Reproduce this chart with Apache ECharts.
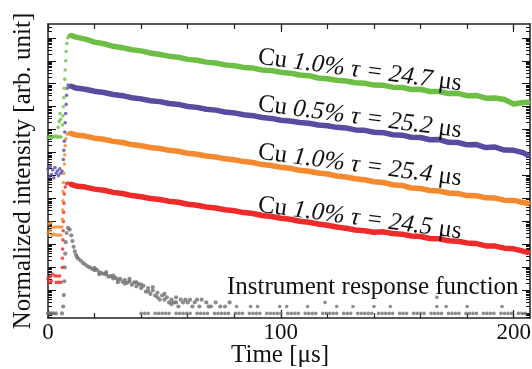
<!DOCTYPE html>
<html>
<head>
<meta charset="utf-8">
<script src="https://cdn.jsdelivr.net/npm/echarts@6/dist/echarts.min.js"></script>
<style>
  html, body { margin: 0; padding: 0; background: #fff; }
  #chart { width: 532px; height: 369px; }
</style>
</head>
<body>
<div id="chart"></div>
<script>
// y values are log10 of the normalized intensity (decades, curves offset)
const DECAY_T = [10, 12, 16, 20, 24, 28, 32, 36, 40, 44, 48, 52, 56, 60, 64, 68, 72, 76, 80, 84, 88, 92, 96, 100,
  104, 108, 112, 116, 120, 124, 128, 132, 136, 140, 144, 148, 152, 156, 160, 164, 168, 172, 176, 180, 184, 188,
  192, 196, 200, 204, 206]

const GREEN = [12.10, 12.03, 11.94, 11.81, 11.74, 11.63, 11.57, 11.48, 11.43, 11.34, 11.27, 11.20, 11.15, 11.06,
  11.02, 10.94, 10.90, 10.82, 10.78, 10.71, 10.68, 10.60, 10.57, 10.50, 10.46, 10.38, 10.35, 10.25, 10.22, 10.15,
  10.12, 10.04, 10.02, 9.94, 9.93, 9.85, 9.84, 9.75, 9.76, 9.66, 9.66, 9.57, 9.58, 9.48, 9.49, 9.37, 9.38, 9.31,
  9.12, 9.18, 9.19]
const PURPLE = [9.89, 9.81, 9.76, 9.67, 9.62, 9.53, 9.48, 9.39, 9.34, 9.26, 9.22, 9.14, 9.10, 9.01, 8.97, 8.89,
  8.85, 8.77, 8.73, 8.65, 8.61, 8.53, 8.49, 8.41, 8.38, 8.31, 8.28, 8.20, 8.17, 8.10, 8.07, 7.99, 7.97, 7.89, 7.87,
  7.78, 7.76, 7.67, 7.66, 7.56, 7.57, 7.45, 7.44, 7.34, 7.35, 7.22, 7.24, 7.11, 7.10, 7.00, 6.90]
const ORANGE = [7.83, 7.77, 7.72, 7.63, 7.58, 7.49, 7.44, 7.35, 7.30, 7.22, 7.18, 7.10, 7.06, 6.97, 6.93, 6.85,
  6.81, 6.73, 6.69, 6.61, 6.57, 6.48, 6.44, 6.36, 6.32, 6.23, 6.19, 6.11, 6.07, 5.98, 5.94, 5.86, 5.82, 5.73, 5.70,
  5.60, 5.57, 5.46, 5.44, 5.35, 5.33, 5.24, 5.22, 5.13, 5.12, 5.03, 5.02, 4.93, 4.92, 4.83, 4.80]
const RED = [5.62, 5.55, 5.50, 5.41, 5.36, 5.27, 5.22, 5.13, 5.08, 5.00, 4.96, 4.88, 4.84, 4.75, 4.71, 4.63, 4.59,
  4.51, 4.47, 4.39, 4.35, 4.26, 4.22, 4.14, 4.10, 4.01, 3.97, 3.89, 3.84, 3.76, 3.71, 3.63, 3.60, 3.53, 3.55, 3.48,
  3.45, 3.37, 3.35, 3.26, 3.25, 3.16, 3.14, 3.07, 3.04, 2.94, 2.93, 2.84, 2.81, 2.71, 2.66]

// background before the pulse and the rising edge, [t, log10 I]
const GREEN_PRE = [[0, 7.66], [0.7, 7.70], [1.4, 7.64], [2.1, 7.70], [2.8, 7.68], [3.5, 7.72], [4.2, 7.66],
  [4.9, 7.70], [5.6, 7.68], [4.4, 8.10], [4.8, 8.35], [5.1, 8.70], [5.4, 8.45], [6.2, 8.2], [6.4, 8.6], [6.6, 9.0],
  [6.8, 9.4], [7.0, 9.8], [7.2, 10.2], [7.4, 10.6], [7.6, 11.0], [7.8, 11.4], [8.1, 11.75], [8.5, 12.0], [9.0, 12.1]]
const PURPLE_PRE = [[0, 6.30], [0.5, 5.95], [1, 6.40], [1.5, 6.05], [2, 6.25], [2.5, 5.90], [3, 6.35], [3.5, 6.10],
  [4, 6.20], [4.5, 6.00], [5, 6.30], [5.5, 6.10], [6, 6.20], [6.6, 6.7], [6.8, 7.1], [7.0, 7.5], [7.2, 7.9],
  [7.4, 8.3], [7.6, 8.7], [7.8, 9.1], [8.0, 9.5], [8.3, 9.8], [8.6, 9.94]]
const ORANGE_PRE = [[0, 3.50], [0.4, 3.90], [0.8, 3.60], [1.2, 3.95], [1.6, 3.40], [2, 3.75], [2.4, 3.45],
  [3, 3.76], [4, 3.76], [5, 3.76], [6, 3.76], [3.5, 3.41], [4.5, 3.41], [5.5, 3.41], [6.2, 4.1], [6.3, 4.5],
  [6.4, 4.9], [6.5, 5.3], [6.6, 5.7], [6.8, 6.1], [7.0, 6.5], [7.2, 6.9], [7.4, 7.3], [7.7, 7.6], [8.3, 7.8],
  [9, 7.86]]
const RED_PRE = [[0, 1.50], [0.5, 1.35], [1, 1.60], [1.5, 1.40], [2, 1.70], [3, 1.63], [4, 1.63], [5, 1.63],
  [3.5, 1.35], [4.5, 1.35], [5.5, 1.35], [6.1, 2.0], [6.2, 2.4], [6.3, 2.8], [6.4, 3.2], [6.5, 3.6], [6.6, 4.0],
  [6.7, 4.4], [6.8, 4.8], [7.0, 5.2], [7.4, 5.5], [8, 5.65], [8.6, 5.68]]

// instrument response function
const IRF_PULSE = [[0, 0], [1, 0], [2, 0], [3.4, 0], [6, 0], [6.5, 0.3], [6.8, 0.8], [7, 1.4], [7.2, 2.0],
  [7.4, 2.6], [7.6, 3.1], [8, 3.5], [8.6, 3.72], [9.3, 3.65], [10, 3.4], [10.5, 3.15], [11, 2.9], [11.5, 2.7],
  [12, 2.55], [12.5, 2.45], [13, 2.38], [14, 2.3], [15, 2.2], [16, 2.13], [17, 2.05], [18, 2.0], [19, 1.93],
  [20, 1.88], [21, 1.9], [22, 1.8], [23, 1.76], [24, 1.72], [25, 1.7], [26, 1.6], [27, 1.62], [28, 1.52],
  [29, 1.55], [30, 1.47], [31, 1.5], [32, 1.38], [33, 1.45], [34, 1.33], [35, 1.4], [36, 1.25], [37, 1.35],
  [38, 1.18], [39, 1.28], [40, 1.1], [41, 1.2], [42, 0.95], [43, 1.1], [44, 0.85], [45, 1.0], [46, 0.78],
  [47, 0.9], [48, 0.6], [49, 0.78], [50, 0.6], [51, 0.7], [52, 0.48], [53, 0.6], [54, 0.48], [55, 0.7],
  [56, 0.3], [57, 0.6], [58, 0.48], [60, 0.48], [61, 0.6], [62, 0.3], [63, 0.48], [65, 0.3], [66, 0.6],
  [68, 0.48], [70, 0.3], [72, 0.48], [74, 0.3], [76, 0.3], [78, 0.48],
  [20, 1.98], [22, 1.7], [25, 1.8], [28, 1.65], [30, 1.36], [33, 1.3], [35, 1.5], [38, 1.35], [40, 1.25],
  [43, 0.95], [45, 1.15], [47, 0.7], [50, 0.85], [53, 0.4], [55, 0.48], [59, 0.6], [64, 0.6], [69, 0.3]]
const IRF_TAIL = [[81, 0.3], [87, 0.3], [90, 0.3], [99.5, 0.3], [102.5, 0.3], [111.5, 0.3], [119, 0.48],
  [124, 0.3], [131, 0.3], [140, 0.3], [147, 0.3], [167, 0.3], [167, 0.7], [171, 0.3], [180, 0.3], [195, 0.3]]
const IRF_FLOOR_T = [40, 41.5, 43, 46, 47.5, 49, 50.5, 52, 55, 56.5, 58, 59.5, 61, 64, 65.5, 67, 68.5, 71.5, 73,
  74.5, 76, 77.5, 80.5, 82, 83.5, 86.5, 88, 89.5, 91, 94, 95.5, 97, 98.5, 100, 103, 104.5, 106, 107.5, 110.5, 112,
  113.5, 115, 118, 119.5, 121, 122.5, 124, 127, 128.5, 130, 133, 134.5, 136, 137.5, 139, 142, 143.5, 145, 146.5,
  148, 151, 152.5, 154, 157, 158.5, 160, 161.5, 164.5, 166, 167.5, 169, 172, 173.5, 175, 176.5, 179.5, 181,
  182.5, 184, 187, 188.5, 190, 191.5, 194.5, 196, 197.5, 199, 202, 203.5, 205]

const X_MIN = 0
const X_MAX = 207
const X_MINOR = [0, 20, 40, 60, 80, 100, 120, 140, 160, 180, 200]
const X_MAJOR = [0, 100, 200]
const Y_MIN = -0.2
const Y_MAX = 12.6

const COLORS = { green: '#6cbe45', purple: '#584ca0', orange: '#f38a30', red: '#ee2a2a', gray: '#707070' }
const SERIF = '"Liberation Serif", "DejaVu Serif", serif'

// log-style tick positions (decades + 2..9 subdivisions)
const yMajor = []
const yMinor = []
for (let d = -1; d <= 13; d++) {
  if (d >= Y_MIN && d <= Y_MAX) yMajor.push(d)
  for (let k = 2; k <= 9; k++) {
    const v = d + Math.log10(k)
    if (v >= Y_MIN && v <= Y_MAX) yMinor.push(v)
  }
}

const chart = echarts.init(document.getElementById('chart'))

function xAxis(position, ticks, len, extra) {
  return Object.assign({
    type: 'value', position, min: X_MIN, max: X_MAX,
    axisLine: { show: false, onZero: false },
    axisTick: { show: true, inside: true, length: len, customValues: ticks, lineStyle: { color: '#222', width: 1.2 } },
    axisLabel: { show: false },
    splitLine: { show: false },
  }, extra)
}
function yAxis(position, ticks, len, extra) {
  return Object.assign({
    type: 'value', position, min: Y_MIN, max: Y_MAX,
    axisLine: { show: false, onZero: false },
    axisTick: { show: true, inside: true, length: len, customValues: ticks, lineStyle: { color: '#111', width: 1 } },
    axisLabel: { show: false },
    splitLine: { show: false },
  }, extra)
}

const axisLineStyle = { show: true, onZero: false, lineStyle: { color: '#222', width: 1.5 } }

const lineSeries = (name, values, color) => ({
  name, type: 'line', xAxisIndex: 0, yAxisIndex: 0,
  data: DECAY_T.map((t, i) => [t, values[i]]),
  symbol: 'none', smooth: false,
  lineStyle: { color, width: 5.5, join: 'round', cap: 'round' },
  z: 3,
})
const dotSeries = (name, data, color, size) => ({
  name, type: 'scatter', xAxisIndex: 0, yAxisIndex: 0,
  data, symbolSize: size || 3.6,
  itemStyle: { color },
  z: 3,
})

const labelRich = {
  n: { fontFamily: SERIF, fontSize: 25, fill: '#111' },
  i: { fontFamily: SERIF, fontSize: 25, fontStyle: 'italic', fill: '#111' },
}
const tilt = -7.5 * Math.PI / 180
const curveLabel = (x, y, conc, tau) => ({
  type: 'text', x, y, rotation: tilt, z: 10,
  style: {
    text: `{n|Cu }{i|${conc}% τ = ${tau}}{n| μs}`,
    rich: labelRich, font: `25px ${SERIF}`,
    textAlign: 'left', textVerticalAlign: 'middle', fill: '#111',
  },
})

chart.setOption({
  animation: false,
  backgroundColor: '#fff',
  grid: { left: 48, right: 2, top: 24, bottom: 51, outerBoundsMode: 'none' },
  xAxis: [
    xAxis('bottom', X_MINOR, 5, {
      axisLine: axisLineStyle,
      axisLabel: {
        show: true, customValues: X_MAJOR, margin: 3,
        fontFamily: SERIF, fontSize: 23, color: '#111',
      },
    }),
    xAxis('bottom', X_MAJOR, 8),
    xAxis('top', X_MINOR, 5, { axisLine: axisLineStyle }),
    xAxis('top', X_MAJOR, 8),
  ],
  yAxis: [
    yAxis('left', yMajor, 8, {
      axisLine: axisLineStyle,
      name: 'Normalized intensity [arb. unit]', nameLocation: 'middle', nameGap: 12,
      nameTextStyle: { fontFamily: SERIF, fontSize: 25, color: '#111' },
    }),
    yAxis('left', yMinor, 4),
    yAxis('right', yMajor, 8, { axisLine: axisLineStyle }),
    yAxis('right', yMinor, 4),
  ],
  series: [
    dotSeries('IRF floor', IRF_FLOOR_T.map(t => [t, 0]), COLORS.gray, 3.6),
    dotSeries('IRF tail', IRF_TAIL, COLORS.gray, 3.6),
    dotSeries('IRF', IRF_PULSE, COLORS.gray, 4.2),
    dotSeries('red pre', RED_PRE, COLORS.red),
    lineSeries('Cu 1.0% τ = 24.5 μs', RED, COLORS.red),
    dotSeries('orange pre', ORANGE_PRE, COLORS.orange),
    lineSeries('Cu 1.0% τ = 25.4 μs', ORANGE, COLORS.orange),
    dotSeries('purple pre', PURPLE_PRE, COLORS.purple),
    lineSeries('Cu 0.5% τ = 25.2 μs', PURPLE, COLORS.purple),
    dotSeries('green pre', GREEN_PRE, COLORS.green),
    lineSeries('Cu 1.0% τ = 24.7 μs', GREEN, COLORS.green),
  ],
  graphic: [
    curveLabel(258, 57, '1.0', '24.7'),
    curveLabel(258, 104, '0.5', '25.2'),
    curveLabel(258, 152, '1.0', '25.4'),
    curveLabel(258, 205, '1.0', '24.5'),
    {
      type: 'text', x: 227, y: 287, z: 10,
      style: {
        text: 'Instrument response function', font: `25px ${SERIF}`,
        textAlign: 'left', textVerticalAlign: 'middle', fill: '#111',
      },
    },
    // x-axis title, centred under the 100 tick
    {
      type: 'text', x: 280, y: 355, z: 10,
      style: {
        text: 'Time [μs]', font: `25px ${SERIF}`,
        textAlign: 'center', textVerticalAlign: 'middle', fill: '#111',
      },
    },
  ],
})
</script>
</body>
</html>
